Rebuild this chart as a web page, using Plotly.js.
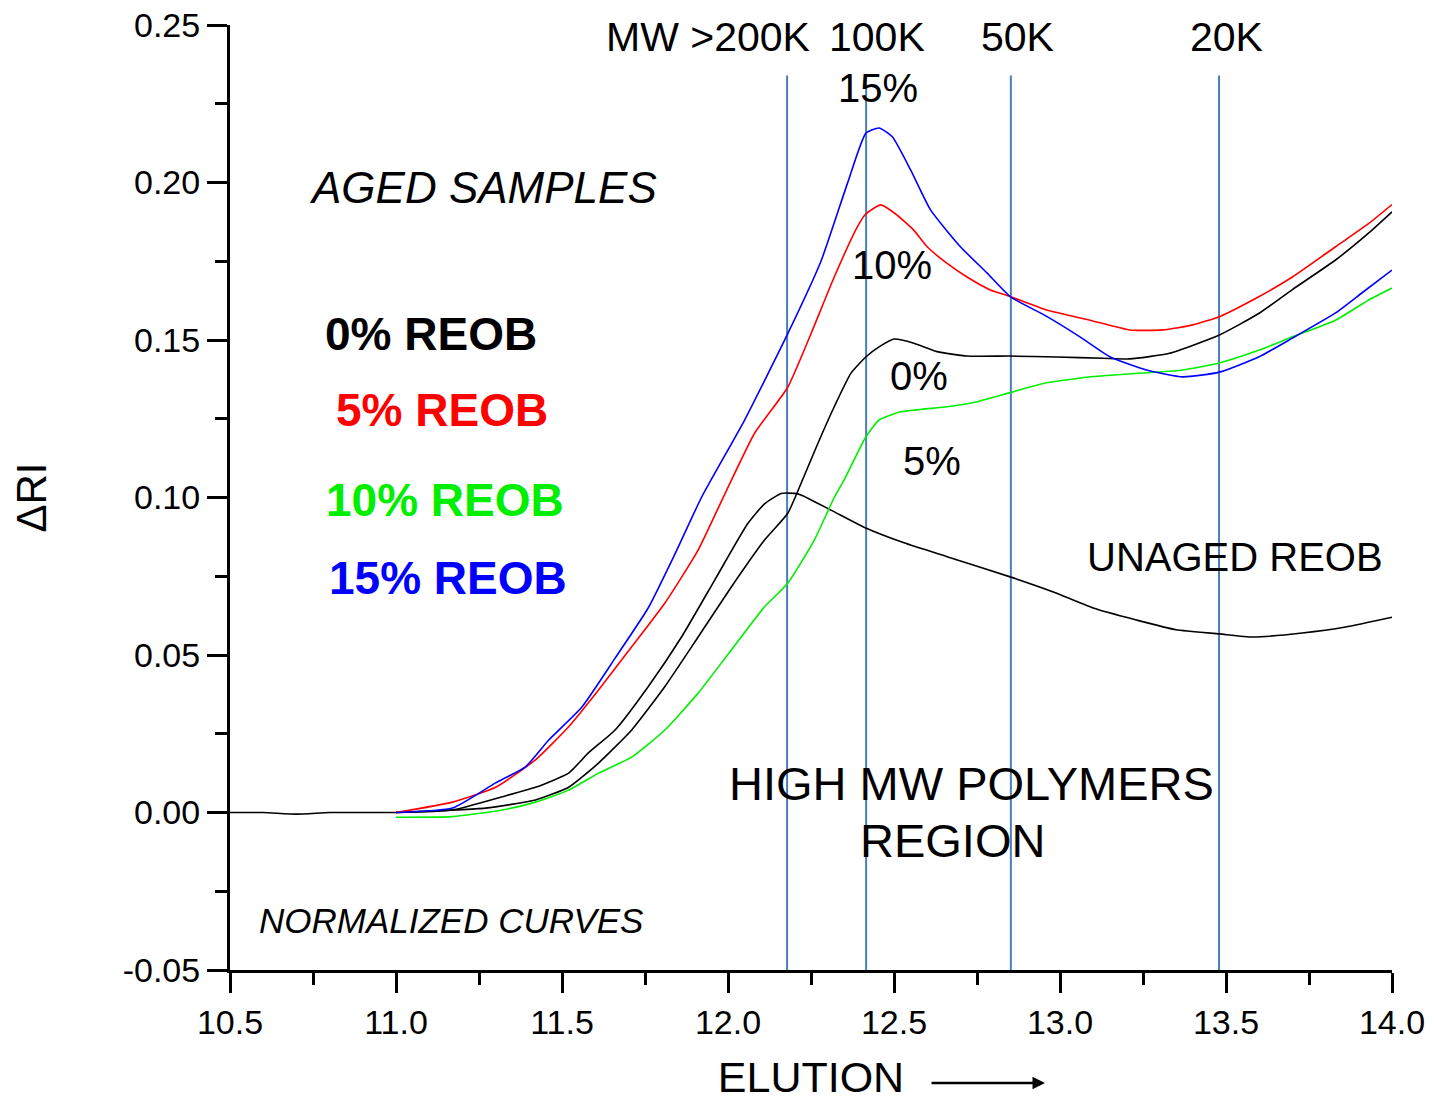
<!DOCTYPE html>
<html>
<head>
<meta charset="utf-8">
<script src="https://cdn.plot.ly/plotly-3.0.1.min.js"></script>
<style>html,body{margin:0;padding:0;background:#fff;}</style>
</head>
<body>
<div id="chart" style="width:1436px;height:1101px;"></div>
<script>
// ---------- DATA ----------
var blueX = [11.0, 11.17, 11.3, 11.39, 11.46, 11.56, 11.66, 11.76, 11.84, 11.92, 12.05, 12.18, 12.28, 12.36, 12.415, 12.455, 12.495, 12.55, 12.61, 12.7, 12.78, 12.85, 12.96, 13.06, 13.15, 13.26, 13.37, 13.48, 13.6, 13.7, 13.83, 13.91, 14.0];
var blueY = [0.0, 0.0014, 0.0094, 0.0145, 0.023, 0.0335, 0.049, 0.065, 0.082, 0.100, 0.1246, 0.152, 0.175, 0.1998, 0.2156, 0.2173, 0.2145, 0.204, 0.1913, 0.1796, 0.1713, 0.1638, 0.1575, 0.151, 0.1447, 0.1405, 0.1383, 0.1398, 0.1447, 0.1506, 0.1586, 0.165, 0.1722];

var redX = [11.0, 11.17, 11.3, 11.42, 11.52, 11.61, 11.71, 11.81, 11.91, 11.99, 12.08, 12.18, 12.25, 12.32, 12.39, 12.415, 12.46, 12.505, 12.56, 12.6, 12.66, 12.72, 12.79, 12.85, 12.96, 13.09, 13.21, 13.31, 13.4, 13.48, 13.6, 13.7, 13.83, 13.93, 14.0];
var redY = [0.0, 0.0033, 0.008, 0.0167, 0.0272, 0.0389, 0.0526, 0.0665, 0.0833, 0.101, 0.1204, 0.135, 0.152, 0.170, 0.186, 0.190, 0.1929, 0.190, 0.1848, 0.1796, 0.1743, 0.170, 0.1659, 0.1638, 0.1595, 0.1563, 0.1532, 0.1532, 0.1548, 0.1574, 0.1638, 0.170, 0.1796, 0.187, 0.193];

var agedBlackX = [11.0, 11.27, 11.42, 11.52, 11.61, 11.71, 11.81, 11.91, 12.01, 12.11, 12.18, 12.23, 12.27, 12.32, 12.37, 12.415, 12.455, 12.5, 12.56, 12.63, 12.72, 12.85, 12.99, 13.13, 13.21, 13.33, 13.48, 13.6, 13.7, 13.83, 13.93, 14.0];
var agedBlackY = [0.0, 0.0014, 0.004, 0.008, 0.0157, 0.0262, 0.040, 0.0557, 0.0716, 0.0865, 0.095, 0.107, 0.117, 0.1288, 0.1394, 0.1446, 0.1478, 0.1503, 0.149, 0.1463, 0.1449, 0.1449, 0.1446, 0.1442, 0.144, 0.1458, 0.1516, 0.1585, 0.166, 0.1754, 0.184, 0.1907];

var greenX = [11.0, 11.17, 11.32, 11.42, 11.52, 11.61, 11.71, 11.81, 11.91, 12.01, 12.11, 12.18, 12.26, 12.32, 12.35, 12.415, 12.455, 12.52, 12.66, 12.75, 12.85, 12.96, 13.1, 13.26, 13.37, 13.48, 13.6, 13.7, 13.83, 13.93, 14.0];
var greenY = [-0.0015, -0.0013, 0.0008, 0.0033, 0.0071, 0.0125, 0.0176, 0.0262, 0.0379, 0.0516, 0.0653, 0.0728, 0.0865, 0.100, 0.1056, 0.1192, 0.1246, 0.1272, 0.1288, 0.1304, 0.1333, 0.1364, 0.1384, 0.1396, 0.1405, 0.1427, 0.1468, 0.151, 0.1563, 0.1627, 0.1665];

var unagedX = [10.5, 10.6, 10.7, 10.8, 10.9, 11.0, 11.17, 11.32, 11.42, 11.52, 11.58, 11.66, 11.76, 11.86, 11.96, 12.06, 12.11, 12.16, 12.2, 12.22, 12.31, 12.415, 12.53, 12.66, 12.85, 12.98, 13.1, 13.23, 13.35, 13.48, 13.58, 13.73, 13.86, 14.0];
var unagedY = [0.0, 0.0, -0.0005, 0.0, 0.0, 0.0, 0.0008, 0.005, 0.008, 0.0125, 0.019, 0.0262, 0.040, 0.0557, 0.0738, 0.0918, 0.098, 0.1013, 0.1013, 0.1008, 0.096, 0.0903, 0.0856, 0.0812, 0.0748, 0.070, 0.0649, 0.0611, 0.058, 0.0567, 0.0557, 0.057, 0.0589, 0.062];

// molecular-weight marker lines (elution positions)
var mwLineX = [12.178, 12.416, 12.852, 13.479];
var mwLineTop = 0.234;

var yTickVals = [-0.05, 0.0, 0.05, 0.10, 0.15, 0.20, 0.25];
var yTickLabels = ['-0.05', '0.00', '0.05', '0.10', '0.15', '0.20', '0.25'];
var xTickVals = [10.5, 11.0, 11.5, 12.0, 12.5, 13.0, 13.5, 14.0];
var xTickLabels = ['10.5', '11.0', '11.5', '12.0', '12.5', '13.0', '13.5', '14.0'];

// ---------- LAYOUT HELPERS ----------
var L = 230, T = 25, W = 1162, H = 945;
function px(x) { return (x - L) / W; }
function py(y) { return (T + H - y) / H; }
var SANS = 'Liberation Sans, Arial, sans-serif';

function lineTrace(x, y, color, name) {
  return { type: 'scatter', mode: 'lines', x: x, y: y, name: name,
           line: { color: color, width: 1.6, shape: 'spline', smoothing: 0.5 }, hoverinfo: 'skip' };
}

var traces = [
  lineTrace(unagedX, unagedY, '#000000', 'Unaged REOB'),
  lineTrace(agedBlackX, agedBlackY, '#000000', '0% REOB'),
  lineTrace(redX, redY, '#ff0000', '5% REOB'),
  lineTrace(greenX, greenY, '#00ee00', '10% REOB'),
  lineTrace(blueX, blueY, '#0000ff', '15% REOB')
];

var shapes = mwLineX.map(function (v) {
  return { type: 'line', xref: 'x', yref: 'y', x0: v, x1: v, y0: -0.05, y1: mwLineTop,
           line: { color: '#4a7ebb', width: 2 }, layer: 'below' };
});

function ann(text, cx, cy, size, opts) {
  opts = opts || {};
  return { text: text, xref: 'paper', yref: 'paper', x: px(cx), y: py(cy),
           xanchor: 'center', yanchor: 'middle', showarrow: false,
           font: { family: SANS, size: size, color: opts.color || '#000' } };
}

var annotations = [
  ann('MW >200K', 708, 37, 41),
  ann('100K', 877, 37, 41),
  ann('50K', 1017, 37, 41),
  ann('20K', 1226, 37, 41),
  ann('15%', 878, 88, 40),
  ann('10%', 892, 265, 40),
  ann('0%', 919, 376, 40),
  ann('5%', 932, 461, 40),
  ann('<i>AGED SAMPLES</i>', 483, 188, 44),
  ann('<b>0% REOB</b>', 431, 334, 46),
  ann('<b>5% REOB</b>', 442, 410, 46, { color: '#ff0000' }),
  ann('<b>10% REOB</b>', 445, 500, 46, { color: '#00ee00' }),
  ann('<b>15% REOB</b>', 448, 578, 46, { color: '#0000ff' }),
  ann('UNAGED REOB', 1235, 557, 40),
  ann('HIGH MW POLYMERS', 971, 783, 47),
  ann('REGION', 952, 840, 47),
  ann('<i>NORMALIZED CURVES</i>', 451, 920, 35),
  { text: '', xref: 'paper', yref: 'paper', x: px(1045), y: py(1083),
    ax: -115, ay: 0, showarrow: true, arrowhead: 2, arrowsize: 1, arrowwidth: 2.5,
    arrowcolor: '#000', standoff: 0 }
];

var layout = {
  width: 1436, height: 1101,
  margin: { l: L, r: 1436 - L - W, t: T, b: 1101 - T - H },
  paper_bgcolor: '#fff', plot_bgcolor: '#fff',
  showlegend: false,
  xaxis: {
    range: [10.5, 14.0], tickmode: 'array', tickvals: xTickVals, ticktext: xTickLabels,
    showline: true, linecolor: '#000', linewidth: 3, mirror: false,
    ticks: 'outside', ticklen: 20, tickwidth: 3, tickcolor: '#000',
    showgrid: false, zeroline: false,
    tickfont: { family: SANS, size: 34, color: '#000' },
    minor: { tickmode: 'linear', tick0: 10.5, dtick: 0.25, ticks: 'outside', ticklen: 12, tickwidth: 3, tickcolor: '#000', showgrid: false },
    title: { text: 'ELUTION', font: { family: SANS, size: 43, color: '#000' }, standoff: 25 }
  },
  yaxis: {
    range: [-0.05, 0.25], tickmode: 'array', tickvals: yTickVals, ticktext: yTickLabels,
    showline: true, linecolor: '#000', linewidth: 3, mirror: false,
    ticks: 'outside', ticklen: 20, tickwidth: 3, tickcolor: '#000',
    showgrid: false, zeroline: false,
    tickfont: { family: SANS, size: 34, color: '#000' },
    minor: { tickmode: 'linear', tick0: -0.05, dtick: 0.025, ticks: 'outside', ticklen: 12, tickwidth: 3, tickcolor: '#000', showgrid: false },
    title: { text: '\u00a0\u00a0\u00a0\u00a0ΔRI', font: { family: SANS, size: 42, color: '#000' }, standoff: 64 }
  },
  shapes: shapes,
  annotations: annotations
};

Plotly.newPlot('chart', traces, layout, { staticPlot: true, displayModeBar: false });
</script>
</body>
</html>
